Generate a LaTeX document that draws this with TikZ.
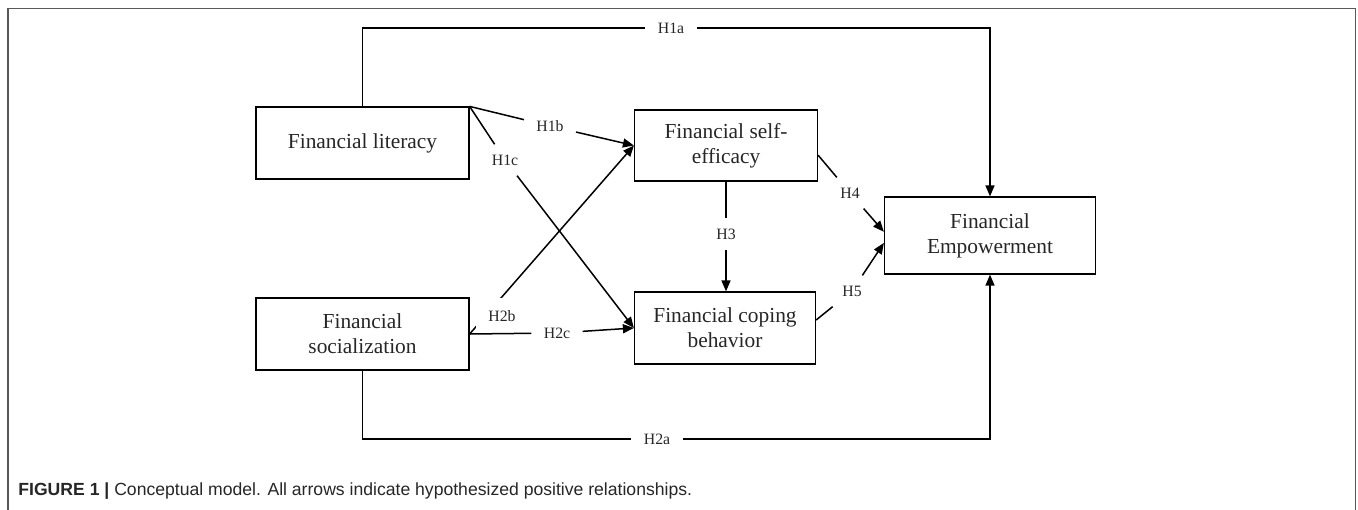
\documentclass[tikz,border=0pt]{standalone}
\usepackage{fontspec}
\setmainfont{Liberation Serif}
\newfontfamily\capfont{Liberation Sans}
\usetikzlibrary{arrows.meta}

\begin{document}
\begin{tikzpicture}[x=0.5pt, y=-0.5pt,
    box/.style={draw, line width=0.6pt, align=center, inner sep=0pt, text=black!85,
      font=\fontsize{10.7}{12.5}\selectfont},
    hyp/.style={fill=white, inner xsep=6pt, inner ysep=5pt, text=black!85,
      font=\fontsize{7.9}{9}\selectfont},
    link/.style={line width=0.75pt},
    arr/.style={line width=0.75pt, -{Triangle[length=5.5pt,width=4.5pt]}}]
    \useasboundingbox (0,0) rectangle (1358,509);
    \draw[black!65, line width=0.8pt] (8,530) -- (8,8.5) -- (1355.5,8.5) -- (1355.5,530);
    % constructs
    \node[box, minimum width=106.5pt, minimum height=36pt] (lit) at (362.5,143) {Financial literacy};
    \node[box, minimum width=106.5pt, minimum height=36pt] (soc) at (362.5,334) {Financial\\socialization};
    \node[box, minimum width=91.5pt, minimum height=35.5pt] (fse) at (726,145.5) {Financial self-\\efficacy};
    \node[box, minimum width=90.5pt, minimum height=36pt] (cop) at (725,328) {Financial coping\\behavior};
    \node[box, minimum width=105.5pt, minimum height=38.5pt] (emp) at (990,235.5) {Financial\\Empowerment};
    % hypotheses
    \node[hyp] (h1a) at (671,28) {H1a};
    \node[hyp] (h1b) at (550,126) {H1b};
    \node[hyp] (h1c) at (505,160) {H1c};
    \node[hyp] (h2a) at (657,439) {H2a};
    \node[hyp] (h2c) at (557,333) {H2c};
    \node[hyp] (h3) at (726,234) {H3};
    \node[hyp] (h4) at (850,193) {H4};
    \node[hyp] (h5) at (852,291) {H5};
    \draw[link] (lit.north) |- (h1a);
    \draw[arr] (h1a) -| (emp.north);
    \draw[link] (lit.north east) -- (h1b);
    \draw[arr] (h1b) -- (fse.west);
    \draw[link] (lit.north east) -- (h1c);
    \draw[arr] (h1c) -- (cop.west);
    \draw[arr] (soc.east) -- (fse.west);
    \node[hyp, inner ysep=6pt] (h2b) at (502,316) {H2b};
    \draw[link] (soc.east) -- (h2c);
    \draw[arr] (h2c) -- (cop.west);
    \draw[link] (soc.south) |- (h2a);
    \draw[arr] (h2a) -| (emp.south);
    \draw[link] (fse.south) -- (h3);
    \draw[arr] (h3) -- (h3 |- cop.north);
    \draw[link] (fse.-6) -- (h4);
    \draw[arr] (h4) -- (emp.178);
    \draw[link] (cop.5) -- (h5);
    \draw[arr] (h5) -- (emp.184);
    % caption
    \node[anchor=base west, inner sep=0pt, text=black!85, font=\capfont\fontsize{8.8}{10}\selectfont] (cap) at (18,495)
      {\textbf{FIGURE 1 |} Conceptual model. All arrows indicate hypothesized positive relationships.};
\end{tikzpicture}
\end{document}
